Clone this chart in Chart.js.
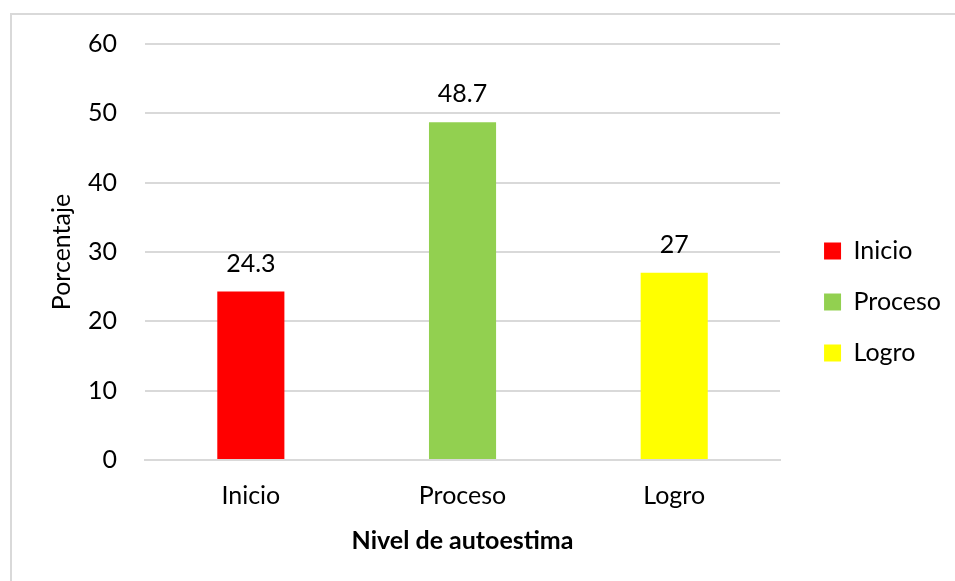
<!DOCTYPE html>
<html>
<head>
<meta charset="utf-8">
<script src="https://cdn.jsdelivr.net/npm/chart.js@4"></script>
<style>
  body { margin: 0; background: #fff; }
  #wrap { position: relative; width: 955px; height: 581px; }
  /* chart border, right and bottom edges fall outside the picture */
  #frame { position: absolute; left: 10px; top: 13px; width: 960px; height: 600px;
           border-left: 2px solid #d9d9d9; border-top: 2px solid #d9d9d9; box-sizing: border-box; }
  canvas { position: absolute; left: 0; top: 0; }
</style>
</head>
<body>
<div id="wrap">
  <div id="frame"></div>
  <canvas id="chart" width="955" height="581"></canvas>
</div>
<script>
// data
const categories = ["Inicio", "Proceso", "Logro"];
const percentages = [24.3, 48.7, 27];
const barColors = ["#ff0000", "#92d050", "#ffff00"];
const yTicks = [0, 10, 20, 30, 40, 50, 60];

const FONT = "Lato, 'Liberation Sans', sans-serif";
const FS = 25;

// value labels above each bar
const valueLabels = {
  id: "valueLabels",
  afterDatasetsDraw(chart) {
    const ctx = chart.ctx;
    const meta = chart.getDatasetMeta(0);
    ctx.save();
    ctx.font = FS + "px " + FONT;
    ctx.fillStyle = "#000";
    ctx.textAlign = "center";
    ctx.textBaseline = "middle";
    meta.data.forEach((bar, i) => {
      ctx.fillText(String(percentages[i]), bar.x, bar.y - 28);
    });
    ctx.restore();
  }
};

// push the legend a bit further away from the plot
const legendGap = {
  id: "legendGap",
  afterLayout(chart) {
    chart.legend.left += 18;
    chart.legend.right += 18;
    chart.legend.top += 2;
    chart.legend.bottom += 2;
  }
};

const ctx = document.getElementById("chart").getContext("2d");
new Chart(ctx, {
  type: "bar",
  data: {
    labels: categories,
    datasets: [{
      label: "Porcentaje",
      data: percentages,
      backgroundColor: barColors,
      borderWidth: 0,
      barPercentage: 0.317,
      categoryPercentage: 1
    }]
  },
  options: {
    responsive: false,
    animation: false,
    layout: { padding: { top: 44, right: 22, bottom: 25, left: 0 } },
    plugins: {
      tooltip: { enabled: false },
      legend: {
        display: true,
        position: "right",
        labels: {
          boxWidth: 17,
          boxHeight: 17,
          padding: 26,
          color: "#000",
          font: { family: FONT, size: FS },
          generateLabels(chart) {
            return categories.map((c, i) => ({
              text: c,
              fillStyle: barColors[i],
              strokeStyle: barColors[i],
              lineWidth: 0,
              hidden: false,
              index: i
            }));
          }
        }
      }
    },
    scales: {
      x: {
        grid: { display: false, drawTicks: false },
        border: { display: true, color: "#d9d9d9", width: 2 },
        ticks: { color: "#000", padding: 21, font: { family: FONT, size: FS } },
        title: {
          display: true,
          text: "Nivel de autoestima",
          color: "#000",
          padding: { top: -6, bottom: 0 },
          font: { family: FONT, size: FS, weight: "bold" }
        }
      },
      y: {
        min: 0,
        max: 60,
        afterBuildTicks(scale) { scale.ticks = yTicks.map(v => ({ value: v })); },
        afterFit(scale) { scale.width = 145; },
        grid: { color: "#d9d9d9", lineWidth: 2, drawTicks: false },
        border: { display: false },
        ticks: { color: "#000", padding: 28, font: { family: FONT, size: FS } },
        title: {
          display: true,
          text: "Porcentaje",
          color: "#000",
          padding: { top: 47, bottom: 0 },
          font: { family: FONT, size: FS }
        }
      }
    }
  },
  plugins: [valueLabels, legendGap]
});
</script>
</body>
</html>
